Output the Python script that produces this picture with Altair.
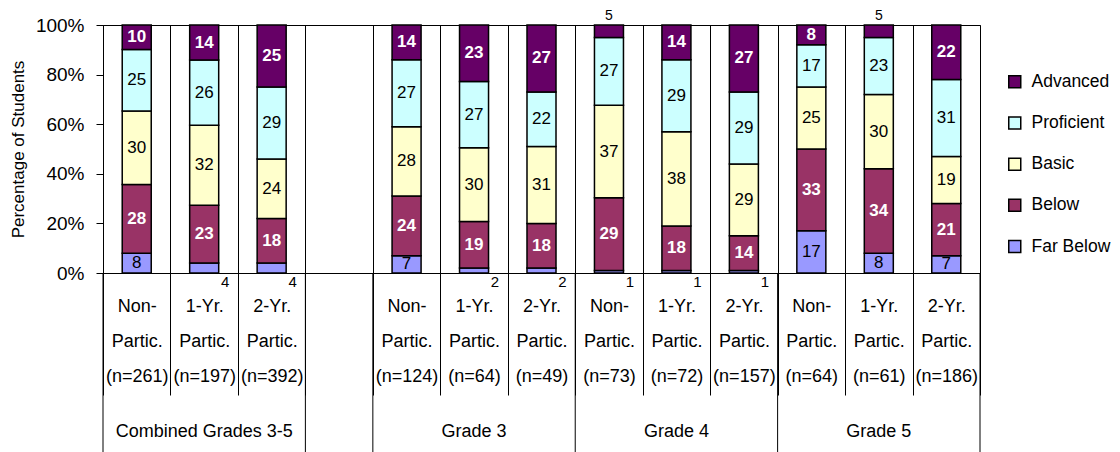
import altair as alt
import pandas as pd

FONT = "Liberation Sans"

groups = ["Combined Grades 3-5", "Grade 3", "Grade 4", "Grade 5"]
programs = ["Non-|Partic.", "1-Yr.|Partic.", "2-Yr.|Partic."]
n_counts = [[261, 197, 392], [124, 64, 49], [73, 72, 157], [64, 61, 186]]

levels = ["Far Below", "Below", "Basic", "Proficient", "Advanced"]
level_colors = ["#9999FF", "#993366", "#FFFFCC", "#CCFFFF", "#660066"]

far_below = [8, 4, 4, 7, 2, 2, 1, 1, 1, 17, 8, 7]
below = [28, 23, 18, 24, 19, 18, 29, 18, 14, 33, 34, 21]
basic = [30, 32, 24, 28, 30, 31, 37, 38, 29, 25, 30, 19]
proficient = [25, 26, 29, 27, 27, 22, 27, 29, 29, 17, 23, 31]
advanced = [10, 14, 25, 14, 23, 27, 5, 14, 27, 8, 5, 22]

GAP = " "

# slot keys (multi-line label text, '|' separated)
group_slots = []
for g, ns in zip(groups, n_counts):
    group_slots.append([f"{p}|(n={n})" for p, n in zip(programs, ns)])
data_slots = [s for gs in group_slots for s in gs]
slot_keys = group_slots[0] + [GAP] + [s for gs in group_slots[1:] for s in gs]

rows = []
for i, key in enumerate(data_slots):
    vals = [far_below[i], below[i], basic[i], proficient[i], advanced[i]]
    for j, lev in enumerate(levels):
        rows.append({"slot": key, "level": lev, "order": j, "value": vals[j]})
df = pd.DataFrame(rows)

grp_df = pd.DataFrame({"slot": [gs[1] for gs in group_slots], "group": groups})
sep_left_df = pd.DataFrame({"slot": [group_slots[0][0], GAP] + [gs[0] for gs in group_slots[1:]]})
sep_right_df = pd.DataFrame({"slot": [group_slots[-1][-1]]})

x_axis = alt.Axis(
    title=None, labelAngle=0,
    labelExpr="datum.value ? split(datum.value, '|') : ''",
    labelFont=FONT, labelFontSize=18, labelColor="black", labelLineHeight=35,
    labelBaseline="top", labelPadding=-98, labelOverlap=False,
    tickBand="extent", tickSize=122, tickColor="black", tickWidth=1,
    grid=True, gridColor="black", gridWidth=1, gridOpacity=1,
    domainColor="black", domainWidth=1,
)
x_scale = alt.Scale(domain=slot_keys, paddingInner=0, paddingOuter=0)


def xenc(band=None):
    if band is None:
        return alt.X("slot:N", scale=x_scale, axis=x_axis, sort=slot_keys)
    return alt.X("slot:N", scale=x_scale, axis=x_axis, sort=slot_keys, bandPosition=band)


y_scale = alt.Scale(domain=[0, 1], nice=False, zero=True)
y_axis = alt.Axis(
    title="Percentage of Students", values=[0, 0.2, 0.4, 0.6, 0.8, 1], format=".0%",
    labelFont=FONT, labelFontSize=19, labelColor="black", labelPadding=12,
    tickSize=7, tickColor="black", tickWidth=1, domainColor="black", domainWidth=1,
    grid=False,
    titleFont=FONT, titleFontSize=17, titleFontWeight="normal", titleColor="black",
    titlePadding=8,
)


def yenc(field):
    return alt.Y(field, scale=y_scale, axis=y_axis, title="Percentage of Students")


base = alt.Chart(df).transform_stack(
    stack="value", groupby=["slot"], as_=["y0", "y1"],
    sort=[alt.SortField("order", order="ascending")], offset="normalize",
).transform_calculate(mid="(datum.y0 + datum.y1) / 2")

bars = base.mark_bar(width=alt.RelativeBandSize(0.43), stroke="black", strokeWidth=1.5).encode(
    x=xenc(),
    y=yenc("y0:Q"),
    y2="y1:Q",
    color=alt.Color(
        "level:N",
        scale=alt.Scale(domain=levels[::-1], range=level_colors[::-1]),
        legend=alt.Legend(
            title=None, orient="none", legendX=903, legendY=48, padding=0,
            symbolType="square", symbolSize=144, symbolStrokeColor="black",
            symbolStrokeWidth=1.5, labelFont=FONT, labelFontSize=17.5,
            labelColor="black", rowPadding=22.2, labelOffset=8,
        ),
    ),
)

inside = base.transform_filter(
    "!((datum.level == 'Far Below' && datum.value < 5) || (datum.level == 'Advanced' && datum.value < 6))"
)

dark_lbl = inside.transform_filter(
    "datum.level == 'Far Below' || datum.level == 'Basic' || datum.level == 'Proficient'"
).mark_text(font=FONT, fontSize=17, color="black", baseline="middle").encode(
    x=xenc(), y=yenc("mid:Q"), text="value:Q"
)

light_lbl = inside.transform_filter(
    "datum.level == 'Below' || datum.level == 'Advanced'"
).mark_text(font=FONT, fontSize=17, fontWeight="bold", color="white", baseline="middle").encode(
    x=xenc(), y=yenc("mid:Q"), text="value:Q"
)

fb_small = base.transform_filter(
    "datum.level == 'Far Below' && datum.value < 5"
).mark_text(font=FONT, fontSize=15, color="black", baseline="middle", dx=21, dy=9).encode(
    x=xenc(), y=yenc("y0:Q"), text="value:Q"
)

adv_small = base.transform_filter(
    "datum.level == 'Advanced' && datum.value < 6"
).mark_text(font=FONT, fontSize=14, color="black", baseline="middle", dy=-9).encode(
    x=xenc(), y=yenc("y1:Q"), text="value:Q"
)

grp_lbl = alt.Chart(grp_df).mark_text(font=FONT, fontSize=18, color="black", baseline="middle").encode(
    x=xenc(), y=alt.value(407), text="group:N"
)

sep_left = alt.Chart(sep_left_df).mark_rule(color="black", strokeWidth=1).encode(
    x=xenc(0), y=alt.value(248), y2=alt.value(430)
)
sep_right = alt.Chart(sep_right_df).mark_rule(color="black", strokeWidth=1).encode(
    x=xenc(1), y=alt.value(248), y2=alt.value(430)
)

chart = alt.layer(
    bars, dark_lbl, light_lbl, fb_small, adv_small, grp_lbl, sep_left, sep_right
).properties(
    width=877, height=248,
    autosize=alt.AutoSizeParams(type="none"),
    padding={"left": 95, "top": 17, "right": 132, "bottom": 179},
).configure_view(stroke="black", strokeWidth=1)

chart.save("out.html", embed_options={"renderer": "svg", "actions": False})
